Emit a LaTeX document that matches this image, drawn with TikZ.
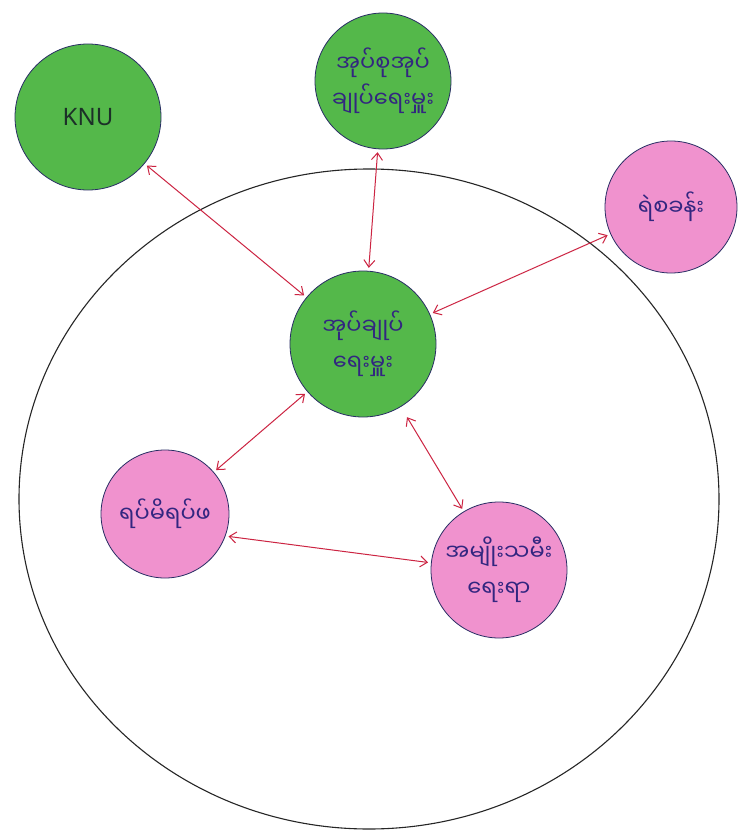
\documentclass[tikz,border=0pt]{standalone}
\usepackage{fontspec}
\setmainfont{Noto Sans}
\newfontfamily\mya[Script=Myanmar]{Noto Sans Myanmar UI}
\usetikzlibrary{arrows.meta}
\definecolor{leaf}{RGB}{84,184,74}
\definecolor{rose}{RGB}{240,146,206}
\definecolor{ink}{RGB}{50,38,128}
\definecolor{knuink}{RGB}{28,48,40}
\definecolor{arrowred}{RGB}{204,36,66}
\definecolor{rim}{RGB}{40,45,100}
\begin{document}
\begin{tikzpicture}[x=1pt,y=-1pt,
  bubble/.style={circle, draw=rim, line width=0.8pt, inner sep=0pt,
    minimum size=#1, align=center, text=ink,
    font=\mya\fontsize{22.5}{36}\selectfont},
  greenbub/.style={bubble=#1, fill=leaf},
  pinkbub/.style={bubble=#1, fill=rose},
  link/.style={draw=arrowred, line width=1pt,
    {Straight Barb[length=7pt,width=11pt]}-{Straight Barb[length=7pt,width=11pt]},
    shorten >=3pt, shorten <=3pt}]
\useasboundingbox (0,0) rectangle (739,832);
\fill[white] (0,0) rectangle (739,832);
% outer boundary
\draw[line width=1.1pt, draw=black!85] (369,499) ellipse [x radius=350, y radius=330];
% nodes
\node[greenbub=146pt, text=knuink, font=\fontsize{24}{28}\selectfont] (knu) at (88,117) {KNU};
\node[greenbub=136pt] (top) at (383,81) {အုပ်စုအုပ်\\ချုပ်ရေးမှူး};
\node[pinkbub=132pt] (police) at (671,207) {ရဲစခန်း};
\node[greenbub=146pt] (hub) at (363,344) {အုပ်ချုပ်\\ရေးမှူး};
\node[pinkbub=128pt] (elders) at (165,514) {ရပ်မိရပ်ဖ};
\node[pinkbub=136pt] (women) at (499,570) {အမျိုးသမီး\\ရေးရာ};
% connectors
\draw[link] (knu) -- (hub);
\draw[link] (top) -- (hub);
\draw[link] (police) -- (hub);
\draw[link] (hub) -- (elders);
\draw[link, shorten <=12pt] (hub) -- (women);
\draw[link] (elders.-20) -- (women.174);
\end{tikzpicture}
\end{document}
